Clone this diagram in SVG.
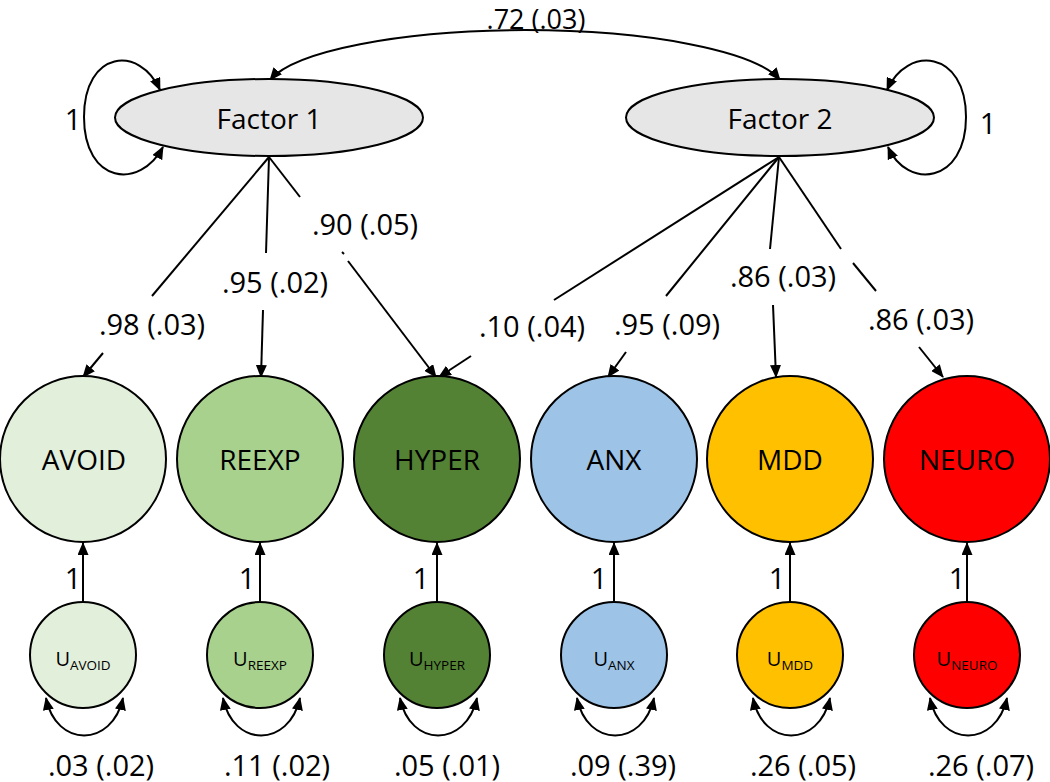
<svg xmlns="http://www.w3.org/2000/svg" width="1050" height="782" viewBox="0 0 1050 782">
<style>
text{font-family:"Open Sans","Noto Sans","Liberation Sans",sans-serif;fill:#000;text-anchor:middle}
.num{font-size:29px}
.top{font-size:27px}
.lab{font-size:28px}
.u{font-size:20px}
.sub{font-size:13.5px}
.node{stroke:#000;stroke-width:2}
.fac{fill:#e7e6e6}
.e{fill:none;stroke:#000;stroke-width:2}
.a{marker-end:url(#ah)}
.aa{marker-start:url(#ah);marker-end:url(#ah)}
</style>
<defs>
<marker id="ah" viewBox="0 0 13 11" markerWidth="13" markerHeight="11" refX="12" refY="5.5" orient="auto-start-reverse" markerUnits="userSpaceOnUse">
<path d="M0,0 L13,5.5 L0,11 z" fill="#000"/>
</marker>
</defs>
<rect width="1050" height="782" fill="#fff"/>

<g id="connectors">
<!-- factor covariance -->
<path class="e aa" d="M 270 80 A 260 62 0 0 1 780 80"/>
<!-- factor self loops -->
<path class="e aa" d="M 160 90 C 140 45, 84 50, 84 117 C 84 184, 140 190, 163 147"/>
<path class="e aa" d="M 887 90 C 907 45, 966 50, 966 117 C 966 184, 907 190, 888 147"/>
<!-- Factor 1 loadings -->
<line class="e" x1="269" y1="157" x2="152" y2="296"/>
<line class="e a" x1="103" y1="353" x2="83" y2="377"/>
<line class="e" x1="269" y1="157" x2="266" y2="253"/>
<line class="e a" x1="263" y1="310" x2="261" y2="377"/>
<line class="e" x1="269" y1="157" x2="300" y2="197"/>
<line class="e" x1="342" y1="252" x2="344" y2="254"/>
<line class="e a" x1="348" y1="261" x2="436" y2="377"/>
<!-- Factor 2 loadings -->
<line class="e" x1="779" y1="157" x2="554" y2="300"/>
<line class="e a" x1="471" y1="356" x2="439" y2="377"/>
<line class="e" x1="779" y1="157" x2="666" y2="296"/>
<line class="e a" x1="626" y1="352" x2="608" y2="377"/>
<line class="e" x1="779" y1="157" x2="770" y2="249"/>
<line class="e a" x1="773" y1="305" x2="776" y2="377"/>
<line class="e" x1="779" y1="157" x2="841" y2="249"/>
<line class="e" x1="853" y1="263" x2="876" y2="291"/>
<line class="e a" x1="919" y1="347" x2="943" y2="377"/>
<!-- uniqueness paths -->
<line class="e a" x1="83" y1="602" x2="83" y2="543"/>
<line class="e a" x1="260" y1="602" x2="260" y2="543"/>
<line class="e a" x1="437" y1="602" x2="437" y2="543"/>
<line class="e a" x1="614" y1="602" x2="614" y2="543"/>
<line class="e a" x1="790" y1="602" x2="790" y2="543"/>
<line class="e a" x1="967" y1="602" x2="967" y2="543"/>
<!-- uniqueness variance loops -->
<path class="e aa" d="M 46 698 C 56 748, 112 748, 123 698"/>
<path class="e aa" d="M 223 698 C 233 748, 289 748, 300 698"/>
<path class="e aa" d="M 400 698 C 410 748, 466 748, 477 698"/>
<path class="e aa" d="M 577 698 C 587 748, 643 748, 654 698"/>
<path class="e aa" d="M 753 698 C 763 748, 819 748, 830 698"/>
<path class="e aa" d="M 930 698 C 940 748, 996 748, 1007 698"/>
<!-- connector labels -->
<text class="top" x="536" y="29">.72 (.03)</text>
<text class="num" x="73" y="130">1</text>
<text class="num" x="988" y="134">1</text>
<text class="num" x="152" y="335">.98 (.03)</text>
<text class="num" x="275" y="293">.95 (.02)</text>
<text class="num" x="365" y="235">.90 (.05)</text>
<text class="num" x="532" y="337">.10 (.04)</text>
<text class="num" x="667" y="335">.95 (.09)</text>
<text class="num" x="783" y="287">.86 (.03)</text>
<text class="num" x="921" y="330">.86 (.03)</text>
<text class="num" x="73" y="589">1</text>
<text class="num" x="247" y="589">1</text>
<text class="num" x="421" y="589">1</text>
<text class="num" x="599" y="589">1</text>
<text class="num" x="777" y="589">1</text>
<text class="num" x="957" y="589">1</text>
<text class="num" x="101" y="776">.03 (.02)</text>
<text class="num" x="277" y="776">.11 (.02)</text>
<text class="num" x="447" y="776">.05 (.01)</text>
<text class="num" x="623" y="776">.09 (.39)</text>
<text class="num" x="803" y="776">.26 (.05)</text>
<text class="num" x="981" y="776">.26 (.07)</text>
</g>

<g id="factor1"><ellipse class="node fac" cx="269" cy="117.5" rx="154" ry="38.5"/><text class="lab" x="269" y="129">Factor 1</text></g>
<g id="factor2"><ellipse class="node fac" cx="780" cy="117.5" rx="154" ry="38.5"/><text class="lab" x="780" y="129">Factor 2</text></g>

<g id="avoid"><circle class="node" cx="83" cy="459" r="83" fill="#e2efda"/><text class="lab" x="84" y="470">AVOID</text></g>
<g id="reexp"><circle class="node" cx="260" cy="459" r="83" fill="#a9d18e"/><text class="lab" x="260" y="470">REEXP</text></g>
<g id="hyper"><circle class="node" cx="437" cy="459" r="83" fill="#548235"/><text class="lab" x="437" y="470">HYPER</text></g>
<g id="anx"><circle class="node" cx="614" cy="459" r="83" fill="#9dc3e6"/><text class="lab" x="614" y="470">ANX</text></g>
<g id="mdd"><circle class="node" cx="790" cy="459" r="83" fill="#ffc000"/><text class="lab" x="790" y="470">MDD</text></g>
<g id="neuro"><circle class="node" cx="967" cy="459" r="83" fill="#ff0000"/><text class="lab" x="967" y="470">NEURO</text></g>

<g id="u_avoid"><circle class="node" cx="83" cy="655" r="53" fill="#e2efda"/><text class="u" x="83" y="666">U<tspan class="sub" dy="4">AVOID</tspan></text></g>
<g id="u_reexp"><circle class="node" cx="260" cy="655" r="53" fill="#a9d18e"/><text class="u" x="260" y="666">U<tspan class="sub" dy="4">REEXP</tspan></text></g>
<g id="u_hyper"><circle class="node" cx="437" cy="655" r="53" fill="#548235"/><text class="u" x="437" y="666">U<tspan class="sub" dy="4">HYPER</tspan></text></g>
<g id="u_anx"><circle class="node" cx="614" cy="655" r="53" fill="#9dc3e6"/><text class="u" x="614" y="666">U<tspan class="sub" dy="4">ANX</tspan></text></g>
<g id="u_mdd"><circle class="node" cx="790" cy="655" r="53" fill="#ffc000"/><text class="u" x="790" y="666">U<tspan class="sub" dy="4">MDD</tspan></text></g>
<g id="u_neuro"><circle class="node" cx="967" cy="655" r="53" fill="#ff0000"/><text class="u" x="967" y="666">U<tspan class="sub" dy="4">NEURO</tspan></text></g>
</svg>
